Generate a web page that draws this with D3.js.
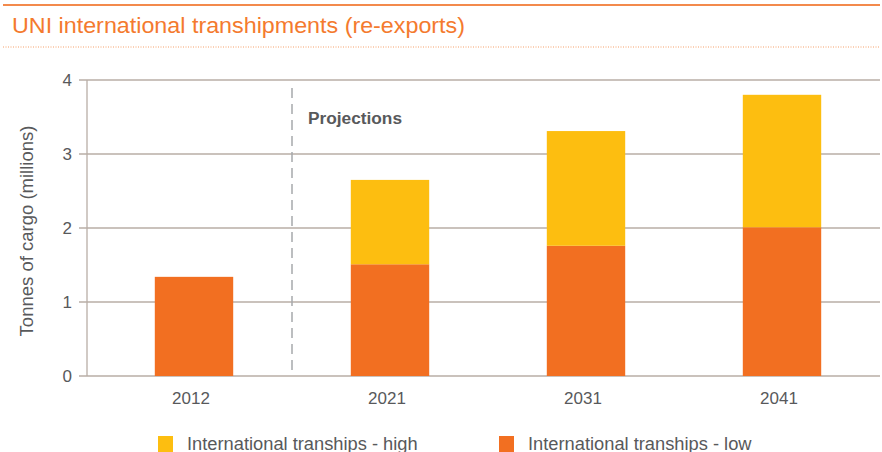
<!DOCTYPE html>
<html lang="en">
<head>
<meta charset="utf-8">
<title>UNI international transhipments</title>
<script src="https://cdn.jsdelivr.net/npm/d3@7"></script>
<style>
  body { margin: 0; background: #fff; }
  text { font-family: "Liberation Sans", Arial, sans-serif; }
</style>
</head>
<body>
<script>
// data
var years = ["2012", "2021", "2031", "2041"];
var lowValues = [1.34, 1.51, 1.76, 2.01];
var highValues = [0, 1.14, 1.55, 1.79];
var seriesNames = ["International tranships - high", "International tranships - low"];
var yTicks = [0, 1, 2, 3, 4];

var w = 882, h = 452;
var orange = "#f26f21", yellow = "#fdbe10", grid = "#b8aea6", textCol = "#58595b";

var svg = d3.select("body").append("svg")
  .attr("width", w)
  .attr("height", h);

// header lines + title
svg.append("line")
  .attr("x1", 3).attr("x2", 880).attr("y1", 5).attr("y2", 5)
  .attr("stroke", "#f38a4c").attr("stroke-width", 2);
svg.append("text")
  .attr("x", 12).attr("y", 33)
  .attr("fill", "#f47a2e")
  .attr("font-size", "22.5px")
  .attr("textLength", 453)
  .attr("lengthAdjust", "spacingAndGlyphs")
  .text("UNI international transhipments (re-exports)");
svg.append("line")
  .attr("x1", 3).attr("x2", 880).attr("y1", 47).attr("y2", 47)
  .attr("stroke", "#f5a06a").attr("stroke-width", 1)
  .attr("stroke-dasharray", "1,1.5");

// scales
var x = d3.scaleBand()
  .domain(years)
  .range([96, 880])
  .paddingInner(0.6)
  .paddingOuter(0.3);

var y = d3.scaleLinear()
  .domain([0, 4])
  .range([376, 80]);

// gridlines
svg.append("g")
  .selectAll("line")
  .data(yTicks)
  .enter()
  .append("line")
  .attr("x1", 79).attr("x2", 880)
  .attr("y1", function(d) { return y(d); })
  .attr("y2", function(d) { return y(d); })
  .attr("stroke", grid)
  .attr("stroke-width", 1.3);

// y axis line
svg.append("line")
  .attr("x1", 87).attr("x2", 87)
  .attr("y1", y(4)).attr("y2", y(0))
  .attr("stroke", grid).attr("stroke-width", 1.3);

// y tick labels
svg.append("g")
  .selectAll("text")
  .data(yTicks)
  .enter()
  .append("text")
  .attr("x", 72)
  .attr("y", function(d) { return y(d) + 6; })
  .attr("text-anchor", "end")
  .attr("font-size", "17px")
  .attr("fill", textCol)
  .text(function(d) { return d; });

// y axis title
svg.append("text")
  .attr("transform", "translate(33," + 231 + ") rotate(-90)")
  .attr("text-anchor", "middle")
  .attr("font-size", "18.5px")
  .attr("fill", textCol)
  .text("Tonnes of cargo (millions)");

// projections divider
svg.append("line")
  .attr("x1", 292).attr("x2", 292)
  .attr("y1", 88).attr("y2", y(0))
  .attr("stroke", "#a7a9ac").attr("stroke-width", 1.5)
  .attr("stroke-dasharray", "10,6");
svg.append("text")
  .attr("x", 308).attr("y", 124)
  .attr("font-family", "'Open Sans', sans-serif")
  .attr("font-size", "16px")
  .attr("font-weight", 600)
  .attr("textLength", 94)
  .attr("lengthAdjust", "spacingAndGlyphs")
  .attr("fill", textCol)
  .text("Projections");

// bars - low
svg.append("g")
  .selectAll("rect")
  .data(lowValues)
  .enter()
  .append("rect")
  .attr("x", function(d, i) { return x(years[i]); })
  .attr("y", function(d) { return y(d); })
  .attr("width", x.bandwidth())
  .attr("height", function(d) { return y(0) - y(d); })
  .attr("fill", orange);

// bars - high (stacked on low)
svg.append("g")
  .selectAll("rect")
  .data(highValues)
  .enter()
  .append("rect")
  .attr("x", function(d, i) { return x(years[i]); })
  .attr("y", function(d, i) { return y(lowValues[i] + d); })
  .attr("width", x.bandwidth())
  .attr("height", function(d, i) { return y(lowValues[i]) - y(lowValues[i] + d); })
  .attr("fill", yellow);

// x labels
svg.append("g")
  .selectAll("text")
  .data(years)
  .enter()
  .append("text")
  .attr("x", function(d) { return x(d) + x.bandwidth() / 2 - 3; })
  .attr("y", 404)
  .attr("text-anchor", "middle")
  .attr("font-size", "17px")
  .attr("fill", textCol)
  .text(function(d) { return d; });

// legend
var legendX = [158, 499];
var legendCol = [yellow, orange];
var lg = svg.append("g")
  .selectAll("g")
  .data(seriesNames)
  .enter()
  .append("g")
  .attr("transform", function(d, i) { return "translate(" + legendX[i] + ",436)"; });
lg.append("rect")
  .attr("width", 15).attr("height", 16)
  .attr("fill", function(d, i) { return legendCol[i]; });
lg.append("text")
  .attr("x", 29).attr("y", 14)
  .attr("font-size", "18.3px")
  .attr("fill", textCol)
  .text(function(d) { return d; });
</script>
</body>
</html>
